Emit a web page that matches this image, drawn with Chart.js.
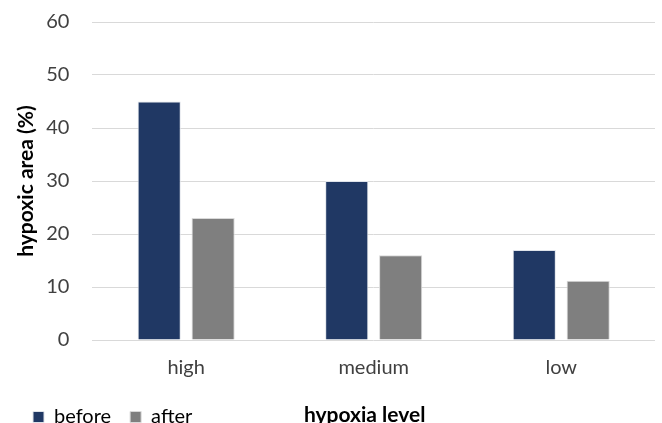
<!DOCTYPE html>
<html>
<head>
<meta charset="utf-8">
<script src="https://cdn.jsdelivr.net/npm/chart.js@4"></script>
<style>
body { margin: 0; background: #fff; overflow: hidden; }
#wrap { width: 662px; height: 436px; margin-top: -13px; }
</style>
</head>
<body>
<div id="wrap"><canvas id="hypoxiaChart"></canvas></div>
<script>
const levels = ['high', 'medium', 'low']
const before = [45, 30, 17]
const after = [23, 16, 11.2]
const yMin = 0
const yMax = 60
const yStep = 10

// x axis title sits on the same row as the legend, so draw it there
const xTitleOnLegendRow = {
    id: 'xTitleOnLegendRow',
    afterDraw(chart) {
        const ctx = chart.ctx
        const lg = chart.legend
        const y = lg.legendHitBoxes.length ? lg.legendHitBoxes[0].top + lg.legendHitBoxes[0].height / 2 : lg.top + lg.height / 2
        const area = chart.chartArea
        ctx.save()
        ctx.font = 'bold 21px Lato'
        ctx.fillStyle = '#000'
        ctx.textAlign = 'center'
        ctx.textBaseline = 'middle'
        ctx.fillText('hypoxia level', (area.left + area.right) / 2 - 9, y - 2)
        ctx.restore()
    }
}

const ctx = document.getElementById('hypoxiaChart')
new Chart(ctx, {
    type: 'bar',
    data: {
        labels: levels,
        datasets: [{
            label: 'before',
            data: before,
            backgroundColor: '#203864',
            borderColor: '#dfe3ea',
            borderWidth: 1,
            categoryPercentage: 0.575,
            barPercentage: 0.8
        }, {
            label: 'after',
            data: after,
            backgroundColor: '#7f7f7f',
            borderColor: '#d9d9d9',
            borderWidth: 1,
            categoryPercentage: 0.575,
            barPercentage: 0.8
        }]
    },
    options: {
        responsive: true,
        maintainAspectRatio: false,
        animation: false,
        layout: {
            padding: { top: 0, right: 7, left: 14, bottom: -14 }
        },
        plugins: {
            tooltip: { enabled: false },
            legend: {
                position: 'bottom',
                align: 'start',
                labels: {
                    boxWidth: 11,
                    boxHeight: 11,
                    padding: 19,
                    color: '#000',
                    font: { family: 'Lato', size: 20 }
                }
            }
        },
        scales: {
            x: {
                grid: { display: false },
                border: { display: false },
                ticks: {
                    color: '#404040',
                    padding: 8,
                    font: { family: 'Lato', size: 20 }
                }
            },
            y: {
                min: yMin,
                max: yMax,
                grid: { color: '#d9d9d9', drawTicks: false },
                border: { display: false },
                ticks: {
                    stepSize: yStep,
                    color: '#404040',
                    padding: 23,
                    font: { family: 'Lato', size: 20 }
                },
                title: {
                    display: true,
                    text: 'hypoxic area (%)',
                    color: '#000',
                    padding: { top: 0, bottom: 4 },
                    font: { family: 'Lato', size: 21, weight: 'bold' }
                },
                afterFit(scale) {
                    scale.width -= 20
                }
            }
        }
    },
    plugins: [xTitleOnLegendRow]
})
</script>
</body>
</html>
